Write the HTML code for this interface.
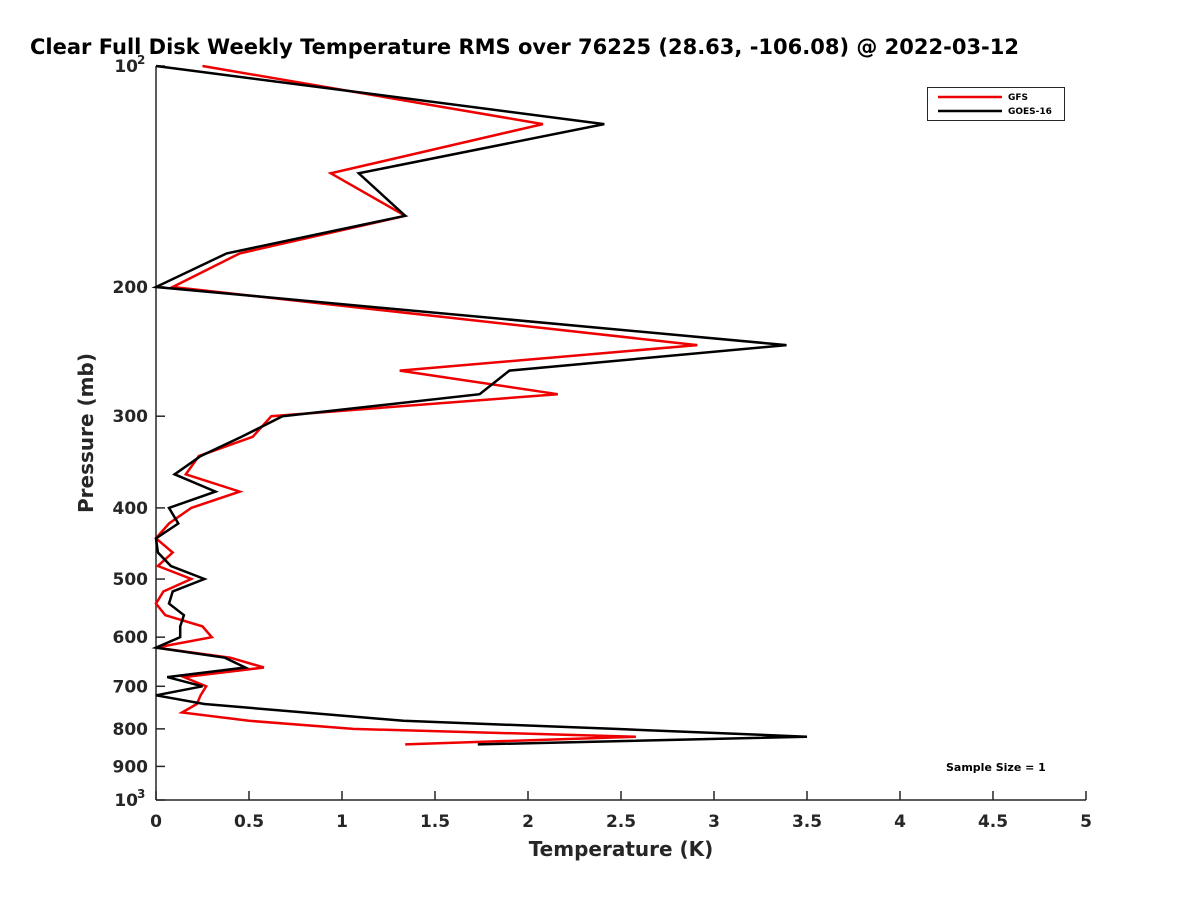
<!DOCTYPE html>
<html><head><meta charset="utf-8"><style>
body{margin:0;background:#fff;width:1200px;height:900px;overflow:hidden}
svg text{font-family:"DejaVu Sans","Liberation Sans",sans-serif;font-weight:bold;fill:#262626}
</style></head><body>
<svg id="chart" width="1200" height="900" xmlns="http://www.w3.org/2000/svg">
<rect width="1200" height="900" fill="#fff"/>
<text x="30" y="54" font-size="21" style="fill:#000">Clear Full Disk Weekly Temperature RMS over 76225 (28.63, -106.08) @ 2022-03-12</text>
<g id="axes"></g>
<g id="series"></g>
<g>
<rect x="927.5" y="87.5" width="137" height="33" fill="#fff" stroke="#262626" stroke-width="1"/>
<line x1="938" y1="97" x2="1002" y2="97" stroke="#e00" stroke-width="2.5"/>
<text x="1008" y="100" font-size="9" style="fill:#000">GFS</text>
<line x1="938" y1="111" x2="1002" y2="111" stroke="#000" stroke-width="2.5"/>
<text x="1008" y="114" font-size="9" style="fill:#000">GOES-16</text>
</g>
<text x="946" y="771" font-size="11" style="fill:#000">Sample Size = 1</text>
<text x="621" y="856" font-size="20" text-anchor="middle">Temperature (K)</text>
<text transform="translate(93,433) rotate(-90)" font-size="20" text-anchor="middle">Pressure (mb)</text>
</svg>
<script>
const pressures = [100,120,140,160,180,200,240,260,280,300,320,340,360,380,400,420,440,460,480,500,520,540,560,580,600,620,640,660,680,700,720,740,760,780,800,820,840];
const gfsValues = [0.25,2.08,0.94,1.34,0.45,0.09,2.91,1.31,2.16,0.62,0.52,0.23,0.16,0.45,0.19,0.07,0,0.09,0.01,0.19,0.04,0,0.05,0.25,0.30,0,0.40,0.58,0.15,0.27,0.24,0.22,0.14,0.5,1.06,2.58,1.34];
const goesValues = [0,2.41,1.09,1.34,0.38,0,3.39,1.90,1.74,0.68,0.46,0.24,0.10,0.32,0.07,0.12,0,0.01,0.08,0.26,0.09,0.07,0.15,0.13,0.13,0,0.37,0.48,0.06,0.25,0,0.26,0.8,1.33,2.47,3.5,1.73];
const xTicks = [0,0.5,1,1.5,2,2.5,3,3.5,4,4.5,5];
const xTickLabels = ["0","0.5","1","1.5","2","2.5","3","3.5","4","4.5","5"];
const yTicks = [100,200,300,400,500,600,700,800,900,1000];

const X0=156,X1=1086,Y0=66,Y1=800;
function xs(v){return X0+(v/5)*(X1-X0);}
function ys(p){return Y0+(Math.log10(p)-2)*(Y1-Y0);}
const NS="http://www.w3.org/2000/svg";
function mk(tag,attrs,parent){const e=document.createElementNS(NS,tag);for(const k in attrs)e.setAttribute(k,attrs[k]);parent.appendChild(e);return e;}
const axes=document.getElementById('axes');
const ya=mk('line',{x1:X0,y1:Y0,x2:X0,y2:Y1,stroke:'#262626','stroke-width':1.5},axes);


const xa=mk('line',{x1:X0,y1:Y1,x2:X1,y2:Y1,stroke:'#262626','stroke-width':1.5},axes);


xTicks.forEach((v,i)=>{
  const t=mk('line',{x1:xs(v),y1:Y1,x2:xs(v),y2:Y1-9,stroke:'#262626','stroke-width':1.5},axes);
  
  
  const l=mk('text',{x:xs(v),y:Y1+27,'font-size':17,'text-anchor':'middle'},axes);
  
  
  l.textContent=xTickLabels[i];
});
yTicks.forEach(p=>{
  const t=mk('line',{x1:X0,y1:ys(p),x2:X0+9,y2:ys(p),stroke:'#262626','stroke-width':1.5},axes);
  
  
  const l=mk('text',{x:X0-8,y:ys(p)+6,'font-size':17,'text-anchor':'end'},axes);
  
  
  if(p===100||p===1000){
    l.setAttribute('x',X0-18);
    l.textContent='10';
    const s=mk('text',{x:X0-19,y:ys(p)-2,'font-size':12,'text-anchor':'start'},axes);
    
    
    s.textContent=p===100?'2':'3';
  } else l.textContent=String(p);
});
const ser=document.getElementById('series');
function draw(vals,color,name){
  const pts=vals.map((v,i)=>xs(v).toFixed(1)+','+ys(pressures[i]).toFixed(1)).join(' ');
  const pl=mk('polyline',{points:pts,fill:'none',stroke:color,'stroke-width':2.5,'stroke-linejoin':'miter'},ser);
  
  
}
draw(gfsValues,'#e00','gfs-line');
draw(goesValues,'#000','goes16-line');
</script>
</body></html>
